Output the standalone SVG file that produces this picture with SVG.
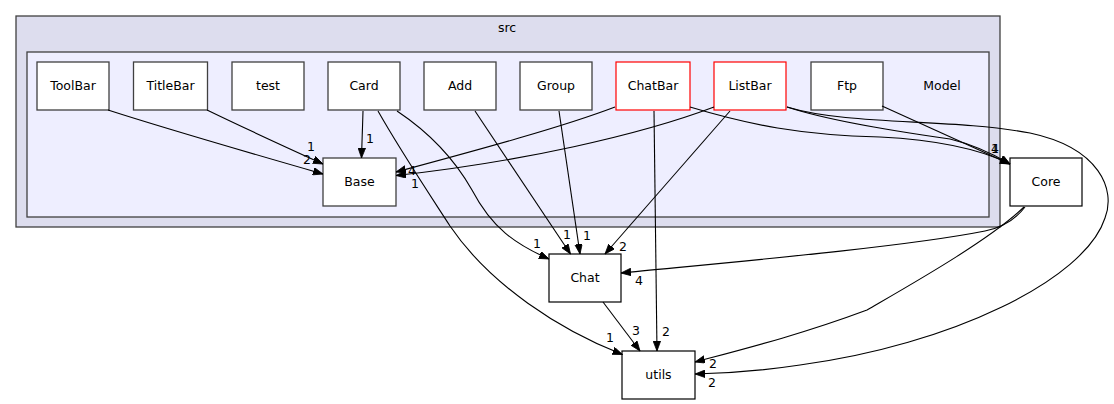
<svg xmlns="http://www.w3.org/2000/svg" width="1114" height="404" viewBox="0 0 1114 404">
<style>
text{font-family:"DejaVu Sans",sans-serif;font-size:12.5px;fill:#000;text-anchor:middle}
.n{fill:#fff;stroke:#404040;stroke-width:1.3}
.o{fill:#fff;stroke:#000;stroke-width:1.2}
.r{fill:#fff;stroke:#ff0000;stroke-width:1.2}
.e{fill:none;stroke:#000;stroke-width:1.1;marker-end:url(#a)}
</style>
<defs>
<marker id="a" markerUnits="userSpaceOnUse" markerWidth="11" markerHeight="8" refX="10" refY="3.75" orient="auto">
<path d="M0,0 L10,3.75 L0,7.5 z" fill="#000" stroke="#000" stroke-width="0.8"/>
</marker>
</defs>
<rect width="1114" height="404" fill="#fff"/>
<g id="cluster_src">
<rect x="16" y="16" width="984" height="211" fill="#ddddee" stroke="#404040" stroke-width="1.3"/>
<text x="507" y="32">src</text>
</g>
<g id="cluster_Model">
<rect x="27" y="52" width="962" height="165" fill="#eeeeff" stroke="#404040" stroke-width="1.3"/>
<text x="942" y="90">Model</text>
</g>
<g id="ToolBar"><rect class="n" x="37" y="62" width="72" height="48"/><text x="73" y="90">ToolBar</text></g>
<g id="TitleBar"><rect class="n" x="133.5" y="62" width="74" height="48"/><text x="170.5" y="90">TitleBar</text></g>
<g id="test"><rect class="n" x="232" y="62" width="72" height="48"/><text x="268" y="90">test</text></g>
<g id="Card"><rect class="n" x="328" y="62" width="72" height="48"/><text x="364" y="90">Card</text></g>
<g id="Add"><rect class="n" x="424" y="62" width="72" height="48"/><text x="460" y="90">Add</text></g>
<g id="Group"><rect class="n" x="520" y="62" width="72" height="48"/><text x="556" y="90">Group</text></g>
<g id="ChatBar"><rect class="r" x="616" y="62" width="74" height="48"/><text x="653" y="90">ChatBar</text></g>
<g id="ListBar"><rect class="r" x="714" y="62" width="72" height="48"/><text x="750" y="90">ListBar</text></g>
<g id="Ftp"><rect class="n" x="811" y="62" width="72" height="48"/><text x="847" y="90">Ftp</text></g>
<g id="Base"><rect class="n" x="323" y="158" width="73" height="48"/><text x="359.5" y="186">Base</text></g>
<g id="Core"><rect class="o" x="1010" y="158" width="72" height="48"/><text x="1046" y="186">Core</text></g>
<g id="Chat"><rect class="o" x="549" y="254" width="72" height="48"/><text x="585" y="282">Chat</text></g>
<g id="utils"><rect class="o" x="622" y="351" width="73" height="48"/><text x="658.5" y="379">utils</text></g>
<g id="connectors">
<path class="e" d="M108,110 C170,130 250,153 323,174"/>
<text x="307" y="163.5">2</text>
<path class="e" d="M207,110 C240,126 290,149 323,164"/>
<text x="311" y="151">1</text>
<path class="e" d="M363,111 L361.5,158"/>
<text x="370" y="142.5">1</text>
<path class="e" d="M615,107 C560,128 470,152 396,172"/>
<text x="412" y="174.5">4</text>
<path class="e" d="M714,107 C640,135 520,162 396,175.5"/>
<text x="415" y="188">1</text>
<path class="e" d="M378,111 C400,150 430,195 450,226 C490,285 560,330 622.5,354.5"/>
<text x="610" y="341.5">1</text>
<path class="e" d="M397,111 C430,133 455,160 472,190 C492,228 515,244 549,259"/>
<text x="537" y="247.5">1</text>
<path class="e" d="M475,111 L570.5,254"/>
<text x="567" y="238.5">1</text>
<path class="e" d="M559,111 L580,254"/>
<text x="587" y="239.5">1</text>
<path class="e" d="M730,111 L605,254"/>
<text x="623" y="250.5">2</text>
<path class="e" d="M654,111 L657,351"/>
<text x="666" y="335.5">2</text>
<path class="e" d="M690,107 C750,125 800,135 880,137 C940,140 982,150 1010,164"/>
<path class="e" d="M787,107 C830,121 900,132 950,139 C975,145 995,155 1010,164"/>
<path class="e" d="M882,106 L1010,164"/>
<text x="995" y="152.5">1</text>
<text x="995" y="152.5">4</text>
<path class="e" d="M787,107 C850,126 950,118 1030,133 C1100,148 1116,190 1105,218 C1085,280 950,345 800,365 C760,371 720,373.5 695,374"/>
<text x="712" y="386.5">2</text>
<path class="e" d="M1025,207 C1015,220 1000,228 985,231 C900,248 700,265 621,273"/>
<text x="639" y="284.5">4</text>
<path class="e" d="M1024,207 C990,240 910,285 867,310 C800,335 740,350 695,362"/>
<text x="713" y="367.5">2</text>
<path class="e" d="M603,302 L640,351"/>
<text x="636" y="334.5">3</text>
</g>
</svg>
